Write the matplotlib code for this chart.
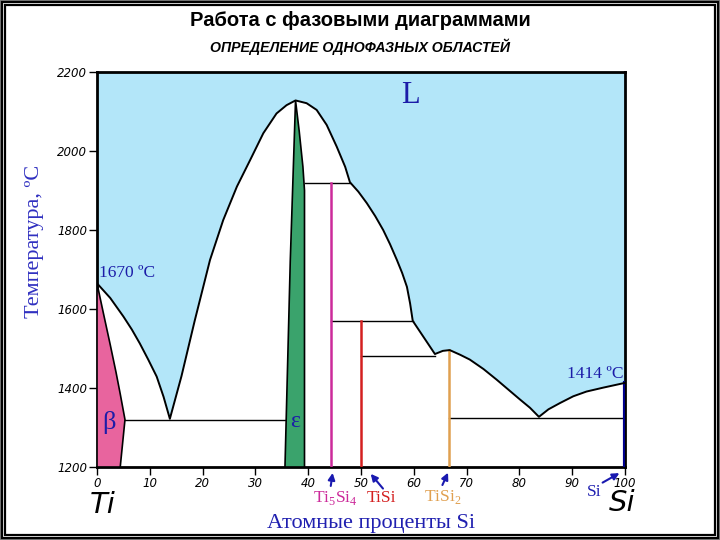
import matplotlib
matplotlib.use("Agg")
import matplotlib.pyplot as plt
from matplotlib.patches import Rectangle

plt.rcParams['mathtext.fontset'] = 'custom'
plt.rcParams['mathtext.rm'] = 'Liberation Serif'

# -----------------------------------------------------------------------------
#         Data (at.% Si, temperature in C)
# -----------------------------------------------------------------------------
# liquidus, left to right
liq_x = [0, 2.5, 5.0, 6.6, 8.1, 9.7, 11.3, 12.6, 13.8,
         16.0, 18.5, 21.4, 23.9, 26.5, 29.0, 31.5, 34.0, 35.9, 37.6,
         39.7, 41.6, 43.5, 45.4, 47.0, 47.9,
         49.5, 51.1, 52.7, 54.2, 55.5, 56.8, 57.8, 58.7, 59.3, 59.8,
         61.8, 64.0, 65.5, 66.8, 68.8, 70.6, 73.2, 75.7, 77.9, 80.1, 82.0,
         83.7, 85.5, 87.7, 90.2, 92.7, 95.9, 100]
liq_t = [1665, 1628, 1581, 1548, 1513, 1472, 1429, 1378, 1322,
         1430, 1570, 1724, 1825, 1910, 1977, 2045, 2095, 2116, 2128,
         2121, 2104, 2066, 2011, 1960, 1921,
         1897, 1868, 1835, 1800, 1764, 1724, 1691, 1656, 1614, 1570,
         1530, 1486, 1494, 1496, 1484, 1472, 1448, 1421, 1396, 1371, 1350,
         1327, 1346, 1362, 1379, 1391, 1401, 1413]

# beta (Ti) solid solution
beta_x = [0, 1.2, 2.5, 3.6, 4.4, 5.3, 4.4, 0]
beta_t = [1665, 1590, 1510, 1440, 1385, 1320, 1200, 1200]

# epsilon (Ti5Si3)
eps_x = [37.6, 38.3, 39.0, 39.3, 39.3, 35.6, 36.6, 37.6]
eps_t = [2128, 2050, 1960, 1900, 1200, 1200, 1720, 2128]

# horizontal invariant lines: (x_start, x_end, T)
iso_lines = [(5.3, 35.9, 1320), (39.3, 47.9, 1920), (44.4, 59.8, 1570),
             (50.0, 64.0, 1482), (66.7, 100, 1325)]

# compounds: x, top temperature, colour
comp_x = [44.4, 50.0, 66.7, 100]
comp_t = [1920, 1570, 1495, 1413]
comp_c = ['#cc2a9a', '#d42020', '#e0a050', '#00008c']
comp_names = [r'Ti$_{\mathrm{5}}$Si$_{\mathrm{4}}$', 'TiSi',
              r'TiSi$_{\mathrm{2}}$', 'Si']

x_ticks = list(range(0, 101, 10))
y_ticks = list(range(1200, 2201, 200))

blue = '#1c1ca8'

# -----------------------------------------------------------------------------
#         Plot
# -----------------------------------------------------------------------------
fig = plt.figure(figsize=(7.2, 5.4), dpi=100)
ax = fig.add_axes([97 / 720, 1 - 467 / 540, 528 / 720, 395 / 540])
ax.set_xlim(0, 100)
ax.set_ylim(1200, 2200)

# liquid region
lx = [0] + liq_x + [100]
lt = [2200] + liq_t + [2200]
ax.fill(lx, lt, color='#b3e6f9', lw=0, zorder=1)
ax.plot(liq_x, liq_t, color='black', lw=1.4, zorder=4)

ax.fill(beta_x, beta_t, color='#e8649e', ec='black', lw=1.2, zorder=3)
ax.fill(eps_x, eps_t, color='#3aa36c', ec='black', lw=1.2, zorder=3)

for x0, x1, t in iso_lines:
    ax.plot([x0, x1], [t, t], color='black', lw=1.0, zorder=2)

for x, t, c in zip(comp_x, comp_t, comp_c):
    ax.plot([x, x], [1200, t], color=c, lw=3 if x == 100 else 1.8, zorder=3)

# labels inside the diagram
ax.text(59.3, 2140, 'L', fontsize=22, family='Liberation Serif', color=blue,
        ha='center', va='center', zorder=5)
ax.text(0.4, 1690, '1670 ºC', fontsize=12.5, family='Liberation Serif',
        color=blue, ha='left', va='center', zorder=5)
ax.text(99.8, 1435, '1414 ºC', fontsize=12.5, family='Liberation Serif',
        color=blue, ha='right', va='center', zorder=5)
ax.text(2.2, 1312, 'β', fontsize=19, family='Liberation Serif', color=blue,
        ha='center', va='center', zorder=5)
ax.text(37.6, 1316, 'ε', fontsize=17, family='Liberation Serif', color=blue,
        ha='center', va='center', zorder=5)

# axes styling
ax.set_xticks(x_ticks)
ax.set_yticks(y_ticks)
ax.tick_params(direction='out', length=6, width=1, labelsize=8.5, pad=1)
for lab in ax.get_xticklabels() + ax.get_yticklabels():
    lab.set_fontstyle('italic')
for sp in ax.spines.values():
    sp.set_linewidth(2)
ax.set_ylabel('Температура, ºC', family='Liberation Serif', fontsize=16,
              color='#3030c0')
ax.yaxis.set_label_coords(-0.1, 0.57)

# compound labels and arrows below the axis
lab_pos = [(45.1, 1122), (53.9, 1122), (65.4, 1125), (94.2, 1137)]
arrow_tail = [(44.2, 1145), (54.5, 1140), (65.2, 1148), (95.3, 1157)]
arrow_head = [(44.7, 1192), (51.5, 1188), (66.7, 1192), (99.4, 1188)]
for name, c, (lx_, lt_) in zip(comp_names, comp_c, lab_pos):
    ax.text(lx_, lt_, name, fontsize=12.5, family='Liberation Serif',
            color=c if c != '#00008c' else '#2020b0',
            ha='center', va='center', clip_on=False)
for tail, head in zip(arrow_tail, arrow_head):
    ax.annotate('', xy=head, xytext=tail, annotation_clip=False,
                arrowprops=dict(arrowstyle='-|>', color='#1a1ab0', lw=1.5,
                                mutation_scale=10))

ax.text(1.0, 1104, 'Ti', fontsize=21, style='italic', ha='center',
        va='center', clip_on=False)
ax.text(99.4, 1110, 'Si', fontsize=21, style='italic', ha='center',
        va='center', clip_on=False)
ax.text(51.9, 1058, 'Атомные проценты Si', fontsize=16,
        family='Liberation Serif', color='#2020b0', ha='center', va='center',
        clip_on=False)

# title
fig.text(0.5, 1 - 20 / 540, 'Работа с фазовыми диаграммами', ha='center',
         va='center', fontsize=14.5, fontweight='bold',
         family='Liberation Sans')
fig.text(0.5, 1 - 47 / 540, 'ОПРЕДЕЛЕНИЕ ОДНОФАЗНЫХ ОБЛАСТЕЙ', ha='center',
         va='center', fontsize=10.2, fontweight='bold', style='italic',
         family='Liberation Sans')

# double frame round the slide
fig.patches.append(Rectangle((0.5 / 720, 0.5 / 540), 719 / 720, 539 / 540,
                             transform=fig.transFigure, fill=False,
                             ec='#808080', lw=1.5))
fig.patches.append(Rectangle((2 / 720, 2 / 540), 716 / 720, 536 / 540,
                             transform=fig.transFigure, fill=False,
                             ec='black', lw=1.6))
fig.patches.append(Rectangle((5 / 720, 5 / 540), 710 / 720, 530 / 540,
                             transform=fig.transFigure, fill=False,
                             ec='black', lw=1.6))

fig.savefig('out.png', dpi=100)
